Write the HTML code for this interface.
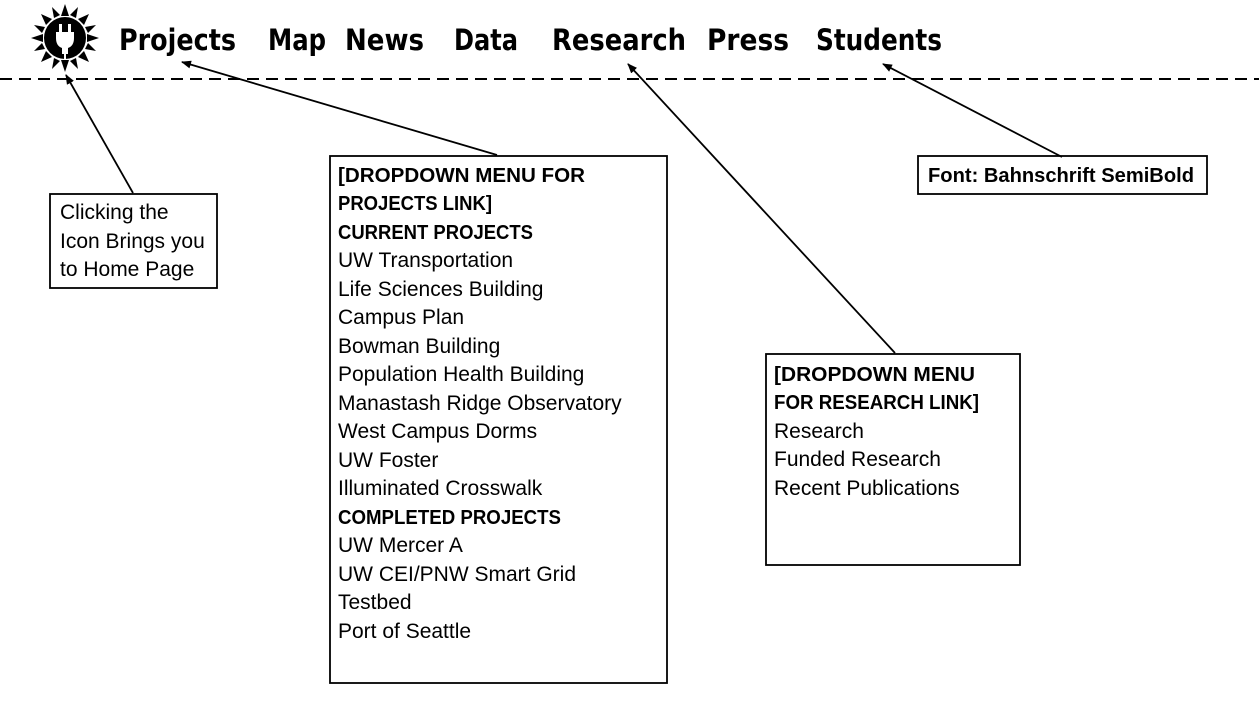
<!DOCTYPE html>
<html><head><meta charset="utf-8"><style>
body{margin:0;background:#fff;}
svg{display:block}
.nav{font-family:"DejaVu Sans","Liberation Sans",sans-serif;font-weight:bold;font-size:29px;fill:#000}
.t{font-family:"Liberation Sans",sans-serif;font-size:21px;fill:#000}
.b{font-weight:bold;font-size:20px}
</style></head><body>
<svg width="1259" height="711" viewBox="0 0 1259 711" xmlns="http://www.w3.org/2000/svg">
<defs><marker id="a" markerWidth="10" markerHeight="8" refX="9" refY="4" orient="auto" markerUnits="userSpaceOnUse"><path d="M0,0 L10,4 L0,8z" fill="#000"/></marker></defs>
<g transform="translate(65,38)">
<g fill="#000">
<polygon points="0,-34 -4,-22 4,-22"/><polygon points="0,34 -4,22 4,22"/>
<polygon points="-34,0 -22,-4 -22,4"/><polygon points="34,0 22,-4 22,4"/>
<polygon points="-24,-24 -19,-13 -13,-19"/><polygon points="24,-24 19,-13 13,-19"/>
<polygon points="-24,24 -19,13 -13,19"/><polygon points="24,24 19,13 13,19"/>
<polygon points="-13,-31 -11,-20 -5,-23"/><polygon points="13,-31 11,-20 5,-23"/>
<polygon points="-13,31 -11,20 -5,23"/><polygon points="13,31 11,20 5,23"/>
<polygon points="-31,-13 -20,-11 -23,-5"/><polygon points="31,-13 20,-11 23,-5"/>
<polygon points="-31,13 -20,11 -23,5"/><polygon points="31,13 20,11 23,5"/>
</g>
<circle r="21" fill="#000"/>
<path d="M-9,-6 h18 v6 q0,8 -6,10 v6 h-6 v-6 q-6,-2 -6,-10z" fill="#fff"/>
<rect x="-6" y="-14" width="3" height="8" fill="#fff"/><rect x="3" y="-14" width="3" height="8" fill="#fff"/>
<rect x="-1" y="16" width="2" height="6" fill="#fff"/>
</g>
<text class="nav" x="119" y="50" textLength="117" lengthAdjust="spacingAndGlyphs">Projects</text>
<text class="nav" x="268" y="50" textLength="58" lengthAdjust="spacingAndGlyphs">Map</text>
<text class="nav" x="345" y="50" textLength="79" lengthAdjust="spacingAndGlyphs">News</text>
<text class="nav" x="454" y="50" textLength="64" lengthAdjust="spacingAndGlyphs">Data</text>
<text class="nav" x="552" y="50" textLength="134" lengthAdjust="spacingAndGlyphs">Research</text>
<text class="nav" x="707" y="50" textLength="82" lengthAdjust="spacingAndGlyphs">Press</text>
<text class="nav" x="816" y="50" textLength="126" lengthAdjust="spacingAndGlyphs">Students</text>
<line x1="0" y1="79" x2="1259" y2="79" stroke="#000" stroke-width="2" stroke-dasharray="12,7"/>
<g stroke="#000" stroke-width="1.8" fill="none">
<line x1="133" y1="193" x2="66" y2="75" marker-end="url(#a)"/>
<line x1="497" y1="155" x2="182" y2="62" marker-end="url(#a)"/>
<line x1="895" y1="353" x2="628" y2="64" marker-end="url(#a)"/>
<line x1="1062" y1="157" x2="883" y2="64" marker-end="url(#a)"/>
<rect x="50" y="194" width="167" height="94"/>
<rect x="330" y="156" width="337" height="527"/>
<rect x="766" y="354" width="254" height="211"/>
<rect x="918" y="156" width="289" height="38"/>
</g>
<text class="t" x="60" y="219">Clicking the</text>
<text class="t" x="60" y="248">Icon Brings you</text>
<text class="t" x="60" y="276">to Home Page</text>
<text class="t b" x="928" y="182" textLength="266" lengthAdjust="spacingAndGlyphs">Font: Bahnschrift SemiBold</text>
<text class="t b" x="338" y="182" textLength="247" lengthAdjust="spacingAndGlyphs">[DROPDOWN MENU FOR</text>
<text class="t b" x="338" y="210" textLength="154" lengthAdjust="spacingAndGlyphs">PROJECTS LINK]</text>
<text class="t b" x="338" y="239" textLength="195" lengthAdjust="spacingAndGlyphs">CURRENT PROJECTS</text>
<text class="t" x="338" y="267">UW Transportation</text>
<text class="t" x="338" y="296">Life Sciences Building</text>
<text class="t" x="338" y="324">Campus Plan</text>
<text class="t" x="338" y="353">Bowman Building</text>
<text class="t" x="338" y="381">Population Health Building</text>
<text class="t" x="338" y="410">Manastash Ridge Observatory</text>
<text class="t" x="338" y="438">West Campus Dorms</text>
<text class="t" x="338" y="467">UW Foster</text>
<text class="t" x="338" y="495">Illuminated Crosswalk</text>
<text class="t b" x="338" y="524" textLength="223" lengthAdjust="spacingAndGlyphs">COMPLETED PROJECTS</text>
<text class="t" x="338" y="552">UW Mercer A</text>
<text class="t" x="338" y="581">UW CEI/PNW Smart Grid</text>
<text class="t" x="338" y="609">Testbed</text>
<text class="t" x="338" y="638">Port of Seattle</text>
<text class="t b" x="774" y="381" textLength="201" lengthAdjust="spacingAndGlyphs">[DROPDOWN MENU</text>
<text class="t b" x="774" y="409" textLength="205" lengthAdjust="spacingAndGlyphs">FOR RESEARCH LINK]</text>
<text class="t" x="774" y="438">Research</text>
<text class="t" x="774" y="466">Funded Research</text>
<text class="t" x="774" y="495">Recent Publications</text>
</svg>
</body></html>
